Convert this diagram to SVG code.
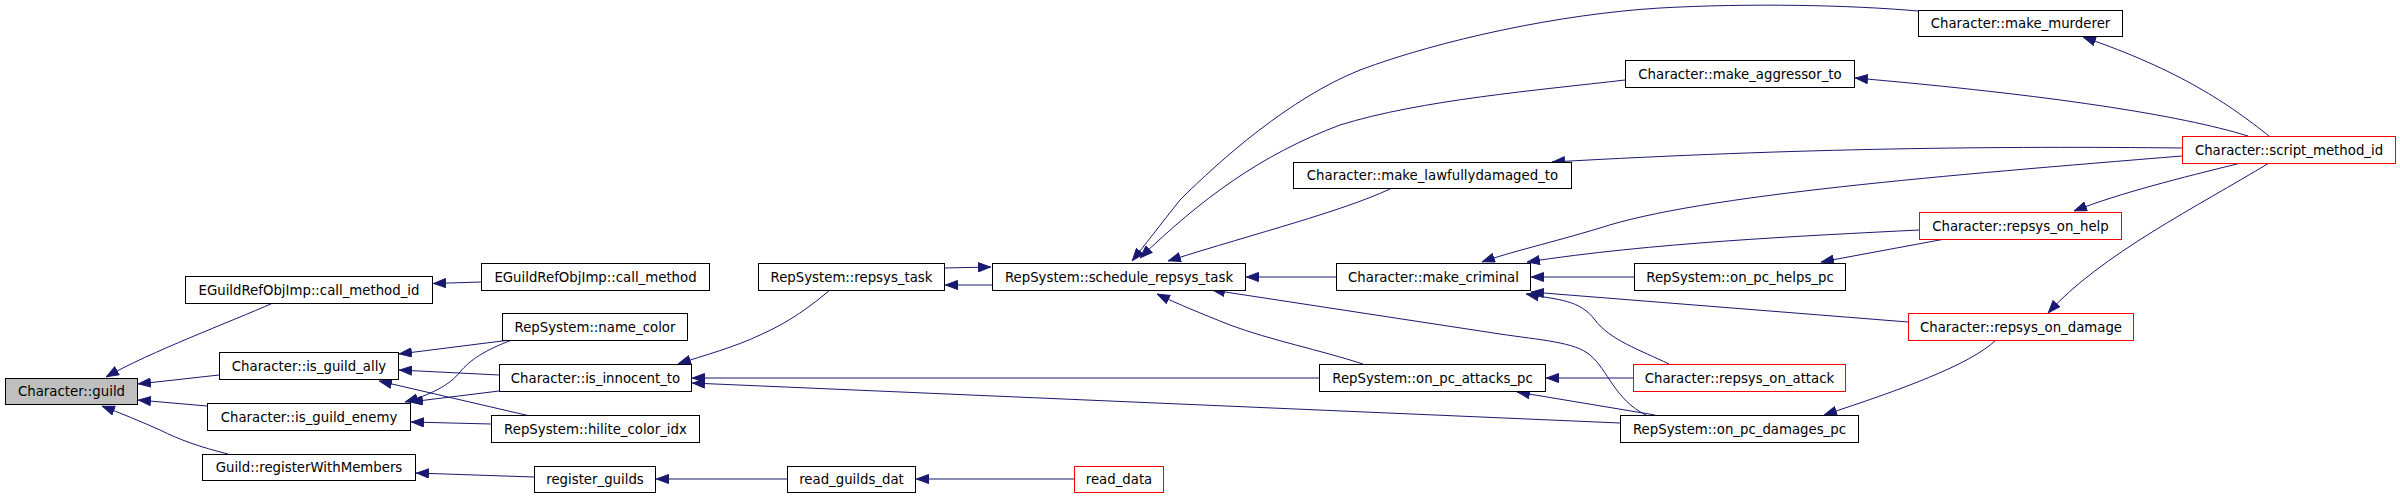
<svg xmlns="http://www.w3.org/2000/svg" width="2400" height="498" viewBox="0 0 2400 498">
<defs>
<style>
.n rect{fill:#fff;stroke:#000;stroke-width:1}
.n.red rect{stroke:#f00}
.n.root rect{fill:#bfbfbf}
.n text{font-family:"DejaVu Sans","Liberation Sans",sans-serif;font-size:13.3px;text-anchor:middle;fill:#000}
.e path{fill:none;stroke:#191970;stroke-width:1;marker-end:url(#arr)}
</style>
<marker id="arr" viewBox="0 0 13 10" refX="13" refY="5" markerWidth="13" markerHeight="10" markerUnits="userSpaceOnUse" orient="auto">
<path d="M0.5,0.5 L12.5,5 L0.5,9.5 z" fill="#191970" stroke="#191970" stroke-width="1"/>
</marker>
</defs>
<rect width="2400" height="498" fill="#fff"/>
<g id="edges" class="e">
<path d="M273,303 C230,322 150,352 106,377"/>
<path d="M219,375 L138,384"/>
<path d="M207,406 L138,400"/>
<path d="M228,454 C200,447 180,440 160,430 C140,421 120,413 102,406"/>
<path d="M481,282 L433,283.5"/>
<path d="M510,340 L399,354"/>
<path d="M512,340 C485,350 470,360 460,372 C450,385 430,395 405,402"/>
<path d="M499,375 L399,370"/>
<path d="M499,391 L410,402"/>
<path d="M530,416 L379,381"/>
<path d="M491,424 L411,422"/>
<path d="M534,477 L416,473"/>
<path d="M787,479 L656,479"/>
<path d="M1074,479 L916,479"/>
<path d="M830,290 C812,305 790,322 760,335 C735,347 705,355 678,364"/>
<path d="M1319,378 L692,378"/>
<path d="M1620,423 L692,383"/>
<path d="M944,268 L991,267"/>
<path d="M992,285 L945,285"/>
<path d="M1336,277 L1246,277"/>
<path d="M1918,11 C1850,5 1750,3 1660,8 C1560,14 1440,40 1360,70 C1290,98 1220,160 1180,200 C1160,225 1145,245 1132,261"/>
<path d="M1625,80 C1540,90 1420,100 1340,125 C1260,155 1200,200 1140,258"/>
<path d="M1390,189 C1340,212 1260,232 1168,261"/>
<path d="M2182,148 C2000,146 1800,148 1552,162"/>
<path d="M2248,136 C2180,115 2050,95 1855,78"/>
<path d="M2269,136 C2230,105 2180,70 2083,37"/>
<path d="M2182,156 C1950,175 1700,195 1600,228 C1550,243 1510,252 1482,262"/>
<path d="M1919,230 C1800,236 1650,243 1527,262"/>
<path d="M2241,163 C2180,178 2120,193 2074,211"/>
<path d="M2269,163 C2200,205 2100,255 2048,313"/>
<path d="M1634,277 L1531,277"/>
<path d="M1945,239 L1821,262"/>
<path d="M1908,322 L1531,292"/>
<path d="M1669,364 C1640,350 1610,340 1595,320 C1580,300 1560,300 1526,294"/>
<path d="M1646,415 C1615,400 1608,370 1590,355 C1575,342 1540,340 1500,334 L1212,290"/>
<path d="M1363,364 C1320,350 1270,340 1230,325 C1200,313 1180,305 1157,294"/>
<path d="M1633,378 L1546,378"/>
<path d="M1655,415 L1517,392"/>
<path d="M1996,340 C1970,365 1900,390 1824,415"/>
</g>
<g id="n_guild" class="n root"><rect x="5.5" y="378.5" width="132" height="26"/><text x="71.5" y="396">Character::guild</text></g>
<g id="n_call_method_id" class="n"><rect x="185.5" y="276.5" width="247" height="27"/><text x="309" y="294.5">EGuildRefObjImp::call_method_id</text></g>
<g id="n_call_method" class="n"><rect x="481.5" y="263.5" width="228" height="27"/><text x="595.5" y="281.5">EGuildRefObjImp::call_method</text></g>
<g id="n_name_color" class="n"><rect x="502.5" y="313.5" width="185" height="27"/><text x="595" y="331.5">RepSystem::name_color</text></g>
<g id="n_is_guild_ally" class="n"><rect x="219.5" y="352.5" width="179" height="27"/><text x="309" y="370.5">Character::is_guild_ally</text></g>
<g id="n_is_innocent_to" class="n"><rect x="499.5" y="364.5" width="192" height="27"/><text x="595.5" y="382.5">Character::is_innocent_to</text></g>
<g id="n_is_guild_enemy" class="n"><rect x="207.5" y="403.5" width="203" height="27"/><text x="309" y="421.5">Character::is_guild_enemy</text></g>
<g id="n_hilite_color_idx" class="n"><rect x="491.5" y="415.5" width="208" height="27"/><text x="595.5" y="433.5">RepSystem::hilite_color_idx</text></g>
<g id="n_registerWithMembers" class="n"><rect x="202.5" y="454.5" width="213" height="26"/><text x="309" y="472">Guild::registerWithMembers</text></g>
<g id="n_register_guilds" class="n"><rect x="534.5" y="466.5" width="121" height="26"/><text x="595" y="484">register_guilds</text></g>
<g id="n_repsys_task" class="n"><rect x="758.5" y="263.5" width="186" height="27"/><text x="851.5" y="281.5">RepSystem::repsys_task</text></g>
<g id="n_schedule_repsys_task" class="n"><rect x="992.5" y="263.5" width="253" height="27"/><text x="1119" y="281.5">RepSystem::schedule_repsys_task</text></g>
<g id="n_read_guilds_dat" class="n"><rect x="787.5" y="466.5" width="128" height="26"/><text x="851.5" y="484">read_guilds_dat</text></g>
<g id="n_read_data" class="n red"><rect x="1074.5" y="466.5" width="89" height="26"/><text x="1119" y="484">read_data</text></g>
<g id="n_make_criminal" class="n"><rect x="1336.5" y="263.5" width="194" height="27"/><text x="1433.5" y="281.5">Character::make_criminal</text></g>
<g id="n_on_pc_attacks_pc" class="n"><rect x="1319.5" y="364.5" width="226" height="27"/><text x="1432.5" y="382.5">RepSystem::on_pc_attacks_pc</text></g>
<g id="n_make_lawfullydamaged_to" class="n"><rect x="1293.5" y="162.5" width="278" height="26"/><text x="1432.5" y="180">Character::make_lawfullydamaged_to</text></g>
<g id="n_make_aggressor_to" class="n"><rect x="1625.5" y="60.5" width="229" height="27"/><text x="1740" y="78.5">Character::make_aggressor_to</text></g>
<g id="n_on_pc_helps_pc" class="n"><rect x="1634.5" y="263.5" width="211" height="27"/><text x="1740" y="281.5">RepSystem::on_pc_helps_pc</text></g>
<g id="n_repsys_on_attack" class="n red"><rect x="1633.5" y="364.5" width="212" height="27"/><text x="1739.5" y="382.5">Character::repsys_on_attack</text></g>
<g id="n_on_pc_damages_pc" class="n"><rect x="1620.5" y="415.5" width="238" height="27"/><text x="1739.5" y="433.5">RepSystem::on_pc_damages_pc</text></g>
<g id="n_make_murderer" class="n"><rect x="1918.5" y="10.5" width="204" height="26"/><text x="2020.5" y="28">Character::make_murderer</text></g>
<g id="n_repsys_on_help" class="n red"><rect x="1919.5" y="212.5" width="202" height="27"/><text x="2020.5" y="230.5">Character::repsys_on_help</text></g>
<g id="n_repsys_on_damage" class="n red"><rect x="1908.5" y="313.5" width="225" height="27"/><text x="2021" y="331.5">Character::repsys_on_damage</text></g>
<g id="n_script_method_id" class="n red"><rect x="2182.5" y="136.5" width="213" height="27"/><text x="2289" y="154.5">Character::script_method_id</text></g>
</svg>
